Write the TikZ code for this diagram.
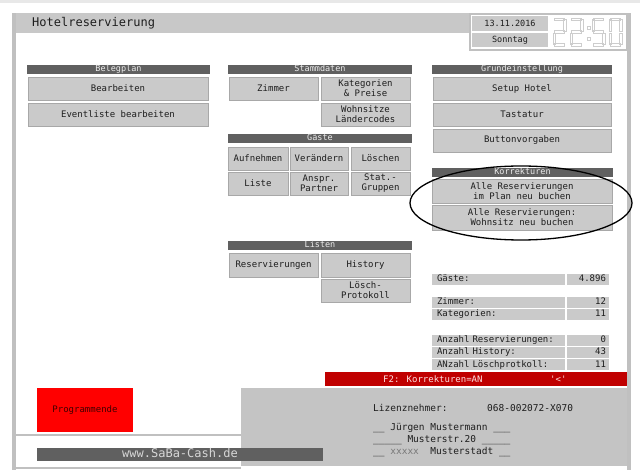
\documentclass[tikz,border=0pt]{standalone}
\usepackage{fontspec}
\usepackage{tikz}
\usetikzlibrary{positioning}
\newfontfamily\pixfont{DejaVu Sans Mono}
\definecolor{bandgray}{RGB}{232,232,232}
\definecolor{framegray}{RGB}{192,192,192}
\definecolor{titlegray}{RGB}{200,200,200}
\definecolor{buttongray}{RGB}{202,202,202}
\definecolor{edgegray}{RGB}{168,168,168}
\definecolor{headgray}{RGB}{96,96,96}
\definecolor{headtext}{RGB}{236,236,236}
\definecolor{clockgray}{RGB}{205,205,205}
\definecolor{panelgray}{RGB}{196,196,196}
\definecolor{textdark}{RGB}{30,30,30}
\definecolor{barred}{RGB}{192,0,0}
\definecolor{quitred}{RGB}{255,0,0}
\tikzset{
  header/.style={fill=headgray, text=headtext, font=\pixfont\fontsize{8.5}{9}\selectfont,
    inner sep=0pt, outer sep=0pt, minimum height=9pt, text height=7pt, text depth=2pt, anchor=north west},
  button/.style={fill=buttongray, draw=edgegray, line width=0.6pt, text=textdark,
    font=\pixfont\fontsize{9}{10}\selectfont, align=center, inner sep=0pt, outer sep=0pt, anchor=north west},
  statlabel/.style={fill=buttongray, text=textdark, font=\pixfont\fontsize{9}{9}\selectfont,
    inner xsep=5pt, inner ysep=0pt, outer sep=0pt, minimum height=11pt, text height=7pt, text depth=2pt,
    text width=123pt, align=left, anchor=north west},
  statvalue/.style={statlabel, text width=36pt, inner xsep=3pt, align=right},
  paneltext/.style={text=textdark, font=\pixfont\fontsize{9.5}{10}\selectfont, inner sep=0pt, anchor=west},
  segment/.style={draw=clockgray, line width=0.8pt},
}

\begin{document}
\begin{tikzpicture}[x=1pt, y=-1pt]
    \useasboundingbox (0,0) rectangle (640,470);

    % Window frame
    \fill[bandgray] (0,0) rectangle (640,3);
    \fill[titlegray] (12,13) rectangle (470,33);
    \fill[framegray] (12,13) rectangle (16,470);
    \fill[framegray] (627,13) rectangle (631,470);
    \draw[framegray, line width=1.5pt] (470,14) rectangle (627,50);
    \node[font=\pixfont\fontsize{12}{12}\selectfont, text=textdark, inner sep=0pt, anchor=west] (titel) at (32,23) {Hotelreservierung};

    % Date and clock
    \node[button, draw=none, font=\pixfont\fontsize{8.5}{9}\selectfont, minimum width=76pt, minimum height=15pt] (datum) at (472,16) {13.11.2016};
    \node[button, draw=none, font=\pixfont\fontsize{8.5}{9}\selectfont, minimum width=76pt, minimum height=14pt] (wochentag) at (472,33) {Sonntag};
    \begin{scope}[shift={(553,18)}]
        \draw[segment] (1.5,0) rectangle (11.5,2.5) (10.5,1.5) rectangle (13,13) (1.5,12.75) rectangle (11.5,15.25)
            (0,15) rectangle (2.5,26.5) (1.5,25.5) rectangle (11.5,28);
    \end{scope}
    \begin{scope}[shift={(570,18)}]
        \draw[segment] (1.5,0) rectangle (11.5,2.5) (10.5,1.5) rectangle (13,13) (1.5,12.75) rectangle (11.5,15.25)
            (0,15) rectangle (2.5,26.5) (1.5,25.5) rectangle (11.5,28);
    \end{scope}
    \draw[segment] (587,26) rectangle (590,29) (587,37) rectangle (590,40);
    \begin{scope}[shift={(592,18)}]
        \draw[segment] (1.5,0) rectangle (11.5,2.5) (0,1.5) rectangle (2.5,13) (1.5,12.75) rectangle (11.5,15.25)
            (10.5,15) rectangle (13,26.5) (1.5,25.5) rectangle (11.5,28);
    \end{scope}
    \begin{scope}[shift={(609,18)}]
        \draw[segment] (1.5,0) rectangle (11.5,2.5) (10.5,1.5) rectangle (13,13) (10.5,15) rectangle (13,26.5)
            (1.5,25.5) rectangle (11.5,28) (0,15) rectangle (2.5,26.5) (0,1.5) rectangle (2.5,13);
    \end{scope}

    % Belegplan
    \node[header, minimum width=183pt] (belegplan) at (27,65) {Belegplan};
    \node[button, minimum width=180pt, minimum height=23pt] (bearbeiten) at (28,77) {Bearbeiten};
    \node[button, minimum width=180pt, minimum height=23pt] (eventliste) at (28,103) {Eventliste bearbeiten};

    % Stammdaten
    \node[header, minimum width=184pt] (stammdaten) at (228,65) {Stammdaten};
    \node[button, minimum width=89pt, minimum height=23pt] (zimmer) at (229,77) {Zimmer};
    \node[button, minimum width=89pt, minimum height=23pt] (kategorien) at (321,77) {Kategorien\\\& Preise};
    \node[button, minimum width=89pt, minimum height=23pt] (wohnsitze) at (321,103) {Wohnsitze\\Ländercodes};

    % Gaeste
    \node[header, minimum width=184pt] (gaeste) at (228,134) {Gäste};
    \node[button, minimum width=60pt, minimum height=23pt] (aufnehmen) at (228,147) {Aufnehmen};
    \node[button, minimum width=58pt, minimum height=23pt] (veraendern) at (290,147) {Verändern};
    \node[button, minimum width=59pt, minimum height=23pt] (loeschen) at (351,147) {Löschen};
    \node[button, minimum width=60pt, minimum height=23pt] (liste) at (228,172) {Liste};
    \node[button, minimum width=58pt, minimum height=23pt] (partner) at (290,172) {Anspr.\\Partner};
    \node[button, minimum width=59pt, minimum height=23pt] (statgruppen) at (351,172) {Stat.-\\Gruppen};

    % Listen
    \node[header, minimum width=184pt] (listen) at (228,241) {Listen};
    \node[button, minimum width=89pt, minimum height=24pt] (reservierungen) at (229,253) {Reservierungen};
    \node[button, minimum width=89pt, minimum height=24pt] (history) at (321,253) {History};
    \node[button, minimum width=89pt, minimum height=23pt] (protokoll) at (321,279) {Lösch-\\Protokoll};

    % Grundeinstellung
    \node[header, minimum width=180pt] (grundeinstellung) at (432,65) {Grundeinstellung};
    \node[button, minimum width=178pt, minimum height=23pt] (setup) at (433,77) {Setup Hotel};
    \node[button, minimum width=178pt, minimum height=23pt] (tastatur) at (433,103) {Tastatur};
    \node[button, minimum width=178pt, minimum height=23pt] (vorgaben) at (433,129) {Buttonvorgaben};

    % Korrekturen
    \node[header, minimum width=181pt] (korrekturen) at (432,168) {Korrekturen};
    \node[button, minimum width=180pt, minimum height=24pt] (planbuchen) at (432,179) {Alle Reservierungen\\im Plan neu buchen};
    \node[button, minimum width=180pt, minimum height=25pt] (wohnsitzbuchen) at (432,205) {Alle Reservierungen:\\Wohnsitz neu buchen};
    \draw[black, line width=1.3pt] (521,203) ellipse [x radius=111, y radius=37];

    % Statistics
    \node[statlabel] (gaestelabel) at (432,274) {Gäste:};
    \node[statvalue] (gaestewert) at (567,274) {4.896};
    \node[statlabel] (zimmerlabel) at (432,297) {Zimmer:};
    \node[statvalue] (zimmerwert) at (567,297) {12};
    \node[statlabel] (kategorienlabel) at (432,309) {Kategorien:};
    \node[statvalue] (kategorienwert) at (567,309) {11};
    \node[statlabel] (reslabel) at (432,335) {Anzahl Reservierungen:};
    \node[statvalue] (reswert) at (567,335) {0};
    \node[statlabel] (historylabel) at (432,347) {Anzahl History:};
    \node[statvalue] (historywert) at (567,347) {43};
    \node[statlabel] (loeschlabel) at (432,359) {ANzahl Löschprotkoll:};
    \node[statvalue] (loeschwert) at (567,359) {11};

    % F2 bar
    \node[fill=barred, inner sep=0pt, outer sep=0pt, minimum width=302pt, minimum height=14pt, anchor=north west] (f2leiste) at (325,372) {};
    \node[text={rgb,255:red,255;green,225;blue,225}, font=\pixfont\fontsize{9}{9}\selectfont, inner sep=0pt, anchor=west] (f2text) at (383,379) {F2: Korrekturen=AN};
    \node[text={rgb,255:red,255;green,225;blue,225}, font=\pixfont\fontsize{9}{9}\selectfont, inner sep=0pt, anchor=west] (f2zeichen) at (550,379) {'<'};

    % Licence panel
    \fill[panelgray] (241,388) rectangle (627,466);
    \node[paneltext] (lizenz) at (373,408) {Lizenznehmer:};
    \node[paneltext] (lizenznr) at (487,408) {068-002072-X070};
    \node[paneltext] (kunde) at (373,428) {\_\_ Jürgen Mustermann \_\_\_};
    \node[paneltext] (strasse) at (373,440) {\_\_\_\_\_ Musterstr.20 \_\_\_\_\_};
    \node[paneltext] (stadt) at (373,452) {\_\_ {\color{textdark!60}xxxxx}~ Musterstadt \_\_};

    % Bottom left
    \node[fill=quitred, text=black!75!red, font=\pixfont\fontsize{9}{9}\selectfont, inner sep=0pt, outer sep=0pt,
        minimum width=96pt, minimum height=44pt, anchor=north west] (programmende) at (37,388) {Programmende};
    \fill[framegray] (16,434) rectangle (241,436);
    \fill[framegray] (16,467) rectangle (241,469);
    \node[header, font=\pixfont\fontsize{12}{12}\selectfont, text={rgb,255:red,215;green,215;blue,215},
        minimum width=286pt, minimum height=13pt, text height=9pt, text depth=2.5pt] (webseite) at (37,448) {www.SaBa-Cash.de};
\end{tikzpicture}
\end{document}
